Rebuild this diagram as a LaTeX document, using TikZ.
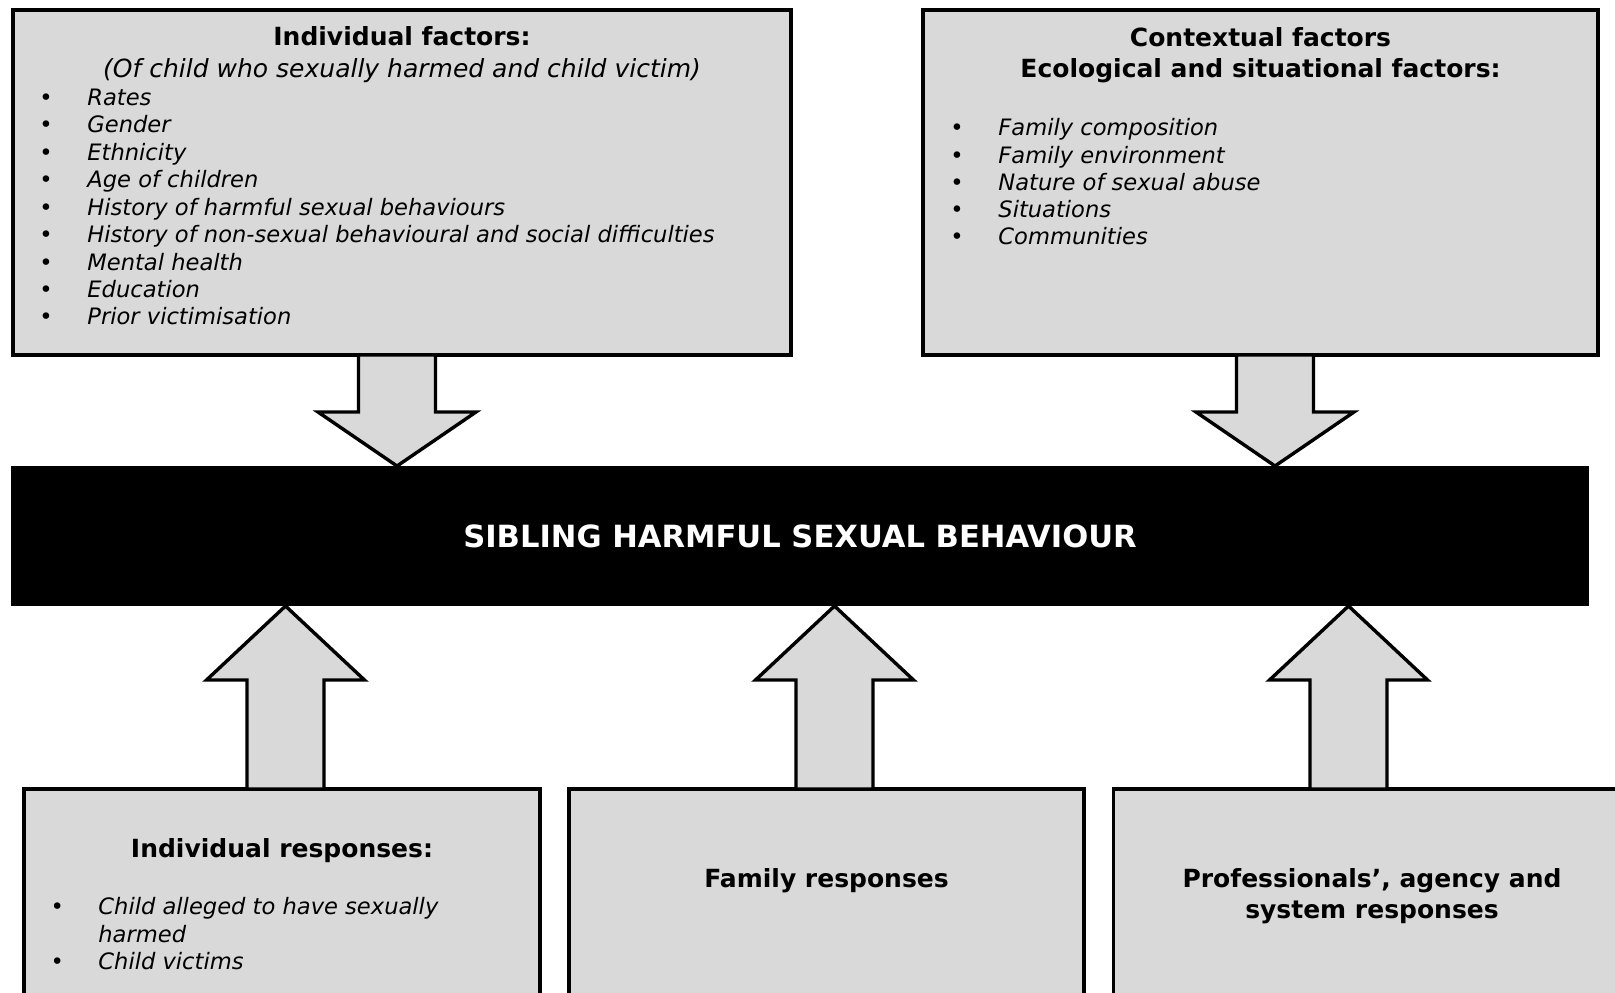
\documentclass[tikz,border=0pt]{standalone}
\usepackage{fontspec}
\setmainfont{DejaVu Sans}
\usetikzlibrary{positioning,calc}

\definecolor{boxgray}{HTML}{D9D9D9}

\tikzset{
  factorbox/.style={draw, line width=1.9pt, fill=boxgray, inner sep=0pt, outer sep=0pt},
  bar/.style={fill=black, text=white, inner sep=0pt, outer sep=0pt,
    font=\fontsize{15.3}{18}\selectfont\bfseries},
  heading/.style={inner sep=0pt, align=center,
    font=\fontsize{12.5}{15.8}\selectfont\bfseries},
  subheading/.style={inner sep=0pt, text height=9.5pt, text depth=3pt,
    font=\fontsize{12.5}{15.8}\selectfont\itshape},
  itemfont/.style={inner sep=0pt, font=\fontsize{11.3}{13.75}\selectfont\itshape},
  item/.style={itemfont, anchor=west, text height=8.5pt, text depth=2.7pt},
  dot/.style={inner sep=0pt, font=\fontsize{11.3}{13.75}\selectfont},
  fatarrow/.style={draw, line width=1.7pt, fill=boxgray, line join=miter,
    to path={
      ($(\tikztostart)+(-38.5,0)$) -- ($(\tikztotarget)+(-38.5,#1)$)
      -- ($(\tikztotarget)+(-79,#1)$) -- (\tikztotarget)
      -- ($(\tikztotarget)+(79,#1)$) -- ($(\tikztotarget)+(38.5,#1)$)
      -- ($(\tikztostart)+(38.5,0)$) -- cycle}}
}

\begin{document}
\begin{tikzpicture}[x=0.5pt, y=-0.5pt]
\useasboundingbox (0,0) rectangle (1615,992);
\clip (0,0) rectangle (1615,992);

% factor boxes
\node[factorbox, minimum width=389pt, minimum height=172.5pt] (indiv) at (402,182.5) {};
\node[factorbox, minimum width=337.5pt, minimum height=172.5pt, right=66pt of indiv] (context) {};

% the behaviour itself
\node[bar, minimum width=789.25pt, minimum height=70pt] (shb) at (800,536) {SIBLING HARMFUL SEXUAL BEHAVIOUR};

% response boxes
\node[factorbox, minimum width=258pt, minimum height=110.5pt] (indresp) at (282,899.5) {};
\node[factorbox, minimum width=257.5pt, minimum height=110.5pt, right=14.5pt of indresp] (famresp) {};
\node[factorbox, minimum width=258.5pt, minimum height=110.5pt, right=14.75pt of famresp] (profresp) {};

% individual factors
\node[heading, text height=9.5pt, text depth=3pt] (indivtitle) at ($(indiv.north)+(0,29.2)$) {Individual factors:};
\node[subheading] (indivsub) at ($(indiv.north)+(0,60.8)$) {(Of child who sexually harmed and child victim)};
\foreach \txt [count=\i] in {Rates, Gender, Ethnicity, Age of children,
    History of harmful sexual behaviours,
    History of non-sexual behavioural and social difficulties,
    Mental health, Education, Prior victimisation}{
  \node[dot] (ifdot\i) at (46,{99.5+27.45*(\i-1)}) {\textbullet};
  \node[item] (ifitem\i) at (87,{99.5+27.45*(\i-1)}) {\txt};
}

% contextual factors
\node[heading] (contexttitle) at ($(context.north)+(0,45)$) {Contextual factors\\Ecological and situational factors:};
\foreach \txt [count=\i] in {Family composition, Family environment,
    Nature of sexual abuse, Situations, Communities}{
  \node[dot] (cfdot\i) at (957,{130+27.25*(\i-1)}) {\textbullet};
  \node[item] (cfitem\i) at (998,{130+27.25*(\i-1)}) {\txt};
}

% responses
\node[heading, text height=9.5pt, text depth=3pt] (indresptitle) at ($(indresp.north)+(0,61.5)$) {Individual responses:};
\node[dot] (irdot1) at (57.3,909) {\textbullet};
\node[itemfont, anchor=base west, align=left] (iritem1) at (98,942) {Child alleged to have sexually\\harmed};
\node[dot] (irdot2) at (57.3,964) {\textbullet};
\node[item] (iritem2) at (98,964) {Child victims};

\node[heading, text height=9.5pt, text depth=3pt] (famresptitle) at ($(famresp.north)+(0,91.5)$) {Family responses};
\node[heading] (profresptitle) at ($(profresp.north)+(0,107)$) {Professionals’, agency and\\system responses};

% block arrows
\coordinate (dA) at (397,0);
\coordinate (dB) at (1275,0);
\coordinate (uA) at (285.5,0);
\coordinate (uB) at (834.5,0);
\coordinate (uC) at (1348.5,0);
\draw[fatarrow=-54] (indiv.south -| dA) to (shb.north -| dA);
\draw[fatarrow=-54] (context.south -| dB) to (shb.north -| dB);
\draw[fatarrow=74] (indresp.north -| uA) to (shb.south -| uA);
\draw[fatarrow=74] (famresp.north -| uB) to (shb.south -| uB);
\draw[fatarrow=74] (profresp.north -| uC) to (shb.south -| uC);
\end{tikzpicture}
\end{document}
